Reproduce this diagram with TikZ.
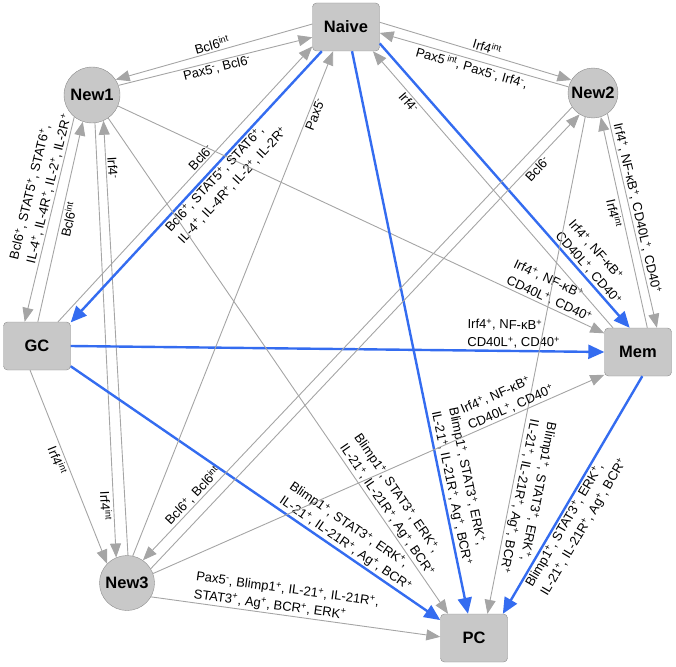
\documentclass[tikz,border=0pt]{standalone}
\usepackage{fontspec}
\setmainfont{Liberation Sans}
\usepackage{tikz}
\usetikzlibrary{arrows.meta}

\definecolor{cellfill}{RGB}{200,200,200}
\definecolor{celledge}{RGB}{140,140,140}
\definecolor{wiregray}{RGB}{165,165,165}
\definecolor{keyblue}{RGB}{52,108,240}

\newcommand{\sPlus}{\textsuperscript{+}}
\newcommand{\sMinus}{\textsuperscript{-}}
\newcommand{\sInt}{\textsuperscript{int}}
\newcommand{\toMem}{Irf4\sPlus, NF-κB\sPlus\\CD40L\sPlus, CD40\sPlus}
\newcommand{\toPC}{Blimp1\sPlus, STAT3\sPlus, ERK\sPlus,\\IL-21\sPlus, IL-21R\sPlus, Ag\sPlus, BCR\sPlus}
\newcommand{\toGC}{Bcl6\sPlus, STAT5\sPlus, STAT6\sPlus,\\IL-4\sPlus, IL-4R\sPlus, IL-2\sPlus, IL-2R\sPlus}

\begin{document}
\begin{tikzpicture}[x=1pt, y=-1pt,
    box/.style={draw=celledge, fill=cellfill, rounded corners=4pt, minimum width=67pt, minimum height=48pt, inner sep=0pt, font=\fontsize{16.5}{16.5}\selectfont\bfseries},
    cell/.style={draw=celledge, fill=cellfill, circle, minimum size=56pt, inner sep=0pt, font=\fontsize{16.5}{16.5}\selectfont\bfseries},
    wire/.style={draw=wiregray, line width=0.9pt, -{Triangle[length=14pt, width=11pt]}},
    key/.style={draw=keyblue, line width=2.4pt, -{Triangle[length=16pt, width=14pt]}},
    lbl/.style={font=\fontsize{13}{17.5}\selectfont, align=left, inner sep=1.5pt, sloped}
  ]
  \useasboundingbox (0,0) rectangle (676,666);

  \node[box] (naive) at (346,27) {Naive};
  \node[cell] (new1) at (92,95) {New1};
  \node[cell, minimum size=50pt] (new2) at (593,93) {New2};
  \node[box] (gc) at (37,346) {GC};
  \node[box] (mem) at (638,352) {Mem};
  \node[cell, minimum size=55pt] (new3) at (127,583) {New3};
  \node[box] (pc) at (474,638) {PC};

  % Naive <-> New1, New2
  \draw[wire] (naive.175) -- node[lbl, above] (l1) {Bcl6\sInt} (new1.33);
  \draw[wire] (new1.20) -- node[lbl, below] (l2) {Pax5\sMinus, Bcl6\sMinus} (naive.197);
  \draw[wire] (naive.8) -- node[lbl, above, pos=0.55] (l3) {Irf4\sInt} (new2.149);
  \draw[wire] (new2.166) -- node[lbl, below] (l4) {Pax5\,\sInt, Pax5\sMinus, Irf4\sMinus,} (naive.350);

  % New1 <-> GC, New3
  \draw[wire] (new1.231) -- node[lbl, above, pos=0.36] (l5) {\toGC} (gc.117);
  \draw[wire] (gc.88) -- node[lbl, below, pos=0.52] (l6) {Bcl6\sInt} (new1.251);
  \draw[wire] (new1.276) -- node[lbl, below, pos=0.88] (l7) {Irf4\sInt} (new3.113);
  \draw[wire] (new3.88) -- node[lbl, above, pos=0.89] (l8) {Irf4\sMinus} (new1.294);

  % GC
  \draw[wire] (gc.254) -- node[lbl, below, pos=0.45] (l9) {Irf4\sInt} (new3.136);
  \draw[wire] (gc.49) -- node[lbl, above, pos=0.58] (l11) {Bcl6\sMinus} (naive.210);
  \draw[key] (naive.225) -- node[lbl, below, pos=0.43] (l12) {\toGC} (gc.35);
  \draw[key] (gc.east) -- node[lbl, above, pos=0.83] (l22) {\toMem} (mem.west);
  \draw[key] (gc.329) -- node[lbl, above, pos=0.73] (l23) {\toPC} (pc.152);

  % towards Mem and PC
  \draw[wire] (new3.78) -- node[lbl, below, pos=0.88] (l10) {Pax5\sMinus} (naive.242);
  \draw[wire] (new1.337) -- node[lbl, above, pos=0.88] (l13) {\toMem} (mem.151);
  \draw[wire] (new1.305) -- node[lbl, above, pos=0.8] (l14) {\toPC} (pc.137);
  \draw[key] (naive.334) -- node[lbl, above, pos=0.81] (l15) {\toMem} (mem.109);
  \draw[wire] (mem.136) -- node[lbl, below, pos=0.83] (l16) {Irf4\sMinus} (naive.318);
  \draw[key] (naive.284) -- node[lbl, above, pos=0.78] (l17) {\toPC} (pc.104);

  % New2 <-> Mem, PC
  \draw[wire] (new2.305) -- node[lbl, above, pos=0.45] (l18) {Irf4\sPlus, NF-κB\sPlus, CD40L\sPlus, CD40\sPlus} (mem.52);
  \draw[wire] (mem.69) -- node[lbl, below, pos=0.55] (l19) {Irf4\sInt} (new2.288);
  \draw[wire] (new2.252) -- node[lbl, above, pos=0.76, allow upside down] (l20) {\toPC} (pc.61);
  \draw[key] (mem.280) -- node[lbl, below, pos=0.58] (l21) {\toPC} (pc.40);

  % New3 <-> New2, Mem, PC
  \draw[wire] (new3.31) -- node[lbl, below, pos=0.89] (l24) {Bcl6\sMinus} (new2.238);
  \draw[wire] (new2.214) -- node[lbl, above, pos=0.87] (l25) {Bcl6\sPlus, Bcl6\sInt} (new3.55);
  \draw[wire] (new3.20) -- node[lbl, above, pos=0.8] (l26) {\toMem} (mem.214);
  \draw[wire] (new3.330) -- node[lbl, above, pos=0.46] (l27) {Pax5\sMinus, Blimp1\sPlus, IL-21\sPlus, IL-21R\sPlus,\\STAT3\sPlus, Ag\sPlus, BCR\sPlus, ERK\sPlus} (pc.178);
\end{tikzpicture}
\end{document}
